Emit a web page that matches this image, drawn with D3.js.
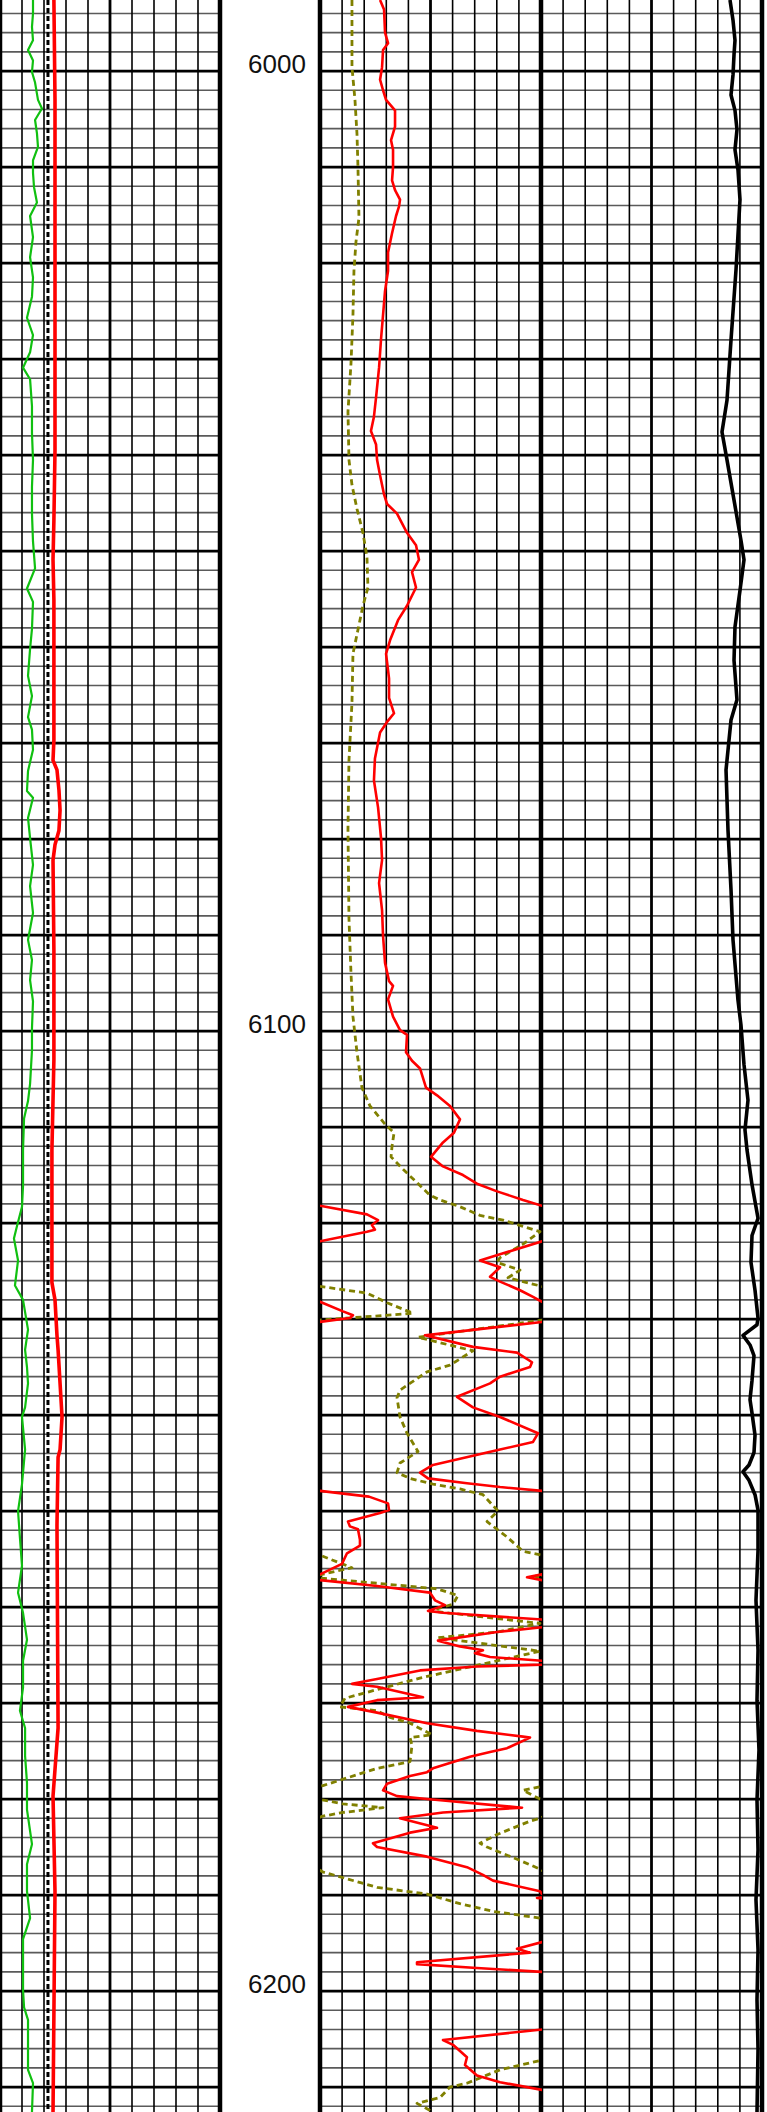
<!DOCTYPE html>
<html><head><meta charset="utf-8">
<script src="https://cdn.jsdelivr.net/npm/d3@7/dist/d3.min.js"></script>
<style>html,body{margin:0;padding:0;background:#fff}svg{display:block}</style>
</head><body><div id="chart"></div>
<script>
// ---------- DATA ----------
const depthLabels = [6000, 6100, 6200];

// Track 1: GR (green), caliper (red), bit size (dotted)
const grDepth = [5992.6,5994.0,5995.4,5996.8,5997.8,5998.9,6000.1,6001.2,6003.0,6003.9,6005.1,6006.5,6007.9,6009.3,6010.6,6012.1,6013.7,6015.1,6017.3,6019.4,6021.5,6023.5,6025.7,6027.5,6029.3,6030.9,6032.1,6034.9,6037.7,6040.5,6043.3,6046.1,6049.0,6051.8,6053.9,6055.3,6058.1,6060.2,6063.0,6065.1,6067.3,6068.6,6070.7,6072.9,6075.0,6075.7,6077.8,6079.9,6082.7,6084.9,6087.7,6090.5,6092.6,6094.7,6096.9,6099.7,6102.0,6105.5,6107.3,6109.1,6112.4,6116.1,6118.3,6120.3,6121.6,6123.9,6126.5,6128.0,6131.1,6133.2,6135.0,6136.7,6139.2,6140.2,6143.6,6147.2,6150.0,6152.8,6155.7,6158.5,6160.6,6163.4,6165.6,6168.4,6170.8,6172.6,6175.5,6178.3,6181.1,6184.7,6186.8,6189.6,6192.4,6194.6,6197.4,6199.9,6201.7,6203.0,6206.1,6208.2,6209.6,6212.6];
const grValue = [22.5,22.5,21.8,22.5,19.1,22.5,21.8,23.9,25.9,28.6,23.9,25.2,25.9,22.5,22.5,23.2,25.2,20.5,22.5,20.5,22.5,21.8,18.4,22.5,20.5,15.7,20.5,21.8,21.8,22.5,21.8,21.8,22.5,23.9,18.4,22.5,21.8,20.5,19.1,21.8,19.1,21.8,22.5,19.1,18.4,22.5,19.1,20.5,22.5,20.5,22.5,19.1,21.8,20.5,22.5,21.8,21.8,20.5,19.1,16.4,15.7,15.7,15.0,11.6,9.5,12.3,10.2,15.7,19.1,17.1,18.4,19.1,17.1,15.0,17.1,15.0,12.3,13.6,15.0,12.3,15.7,18.4,15.7,15.7,13.6,17.1,17.1,18.4,18.4,21.8,18.4,18.4,20.5,15.7,15.7,15.7,16.4,19.1,19.1,19.1,22.5,21.8];

const calDepth = [5992.6,6003.0,6023.9,6039.5,6046.8,6050.9,6055.1,6069.7,6071.8,6072.8,6074.9,6077.0,6079.1,6080.6,6082.2,6091.6,6103.0,6112.4,6126.2,6128.0,6131.7,6133.2,6140.2,6143.6,6144.4,6151.5,6172.6,6176.9,6179.7,6189.6,6212.6];
const calValue = [8.45,8.50,8.50,8.50,8.45,8.41,8.45,8.45,8.41,8.59,8.68,8.73,8.68,8.50,8.41,8.45,8.45,8.36,8.36,8.50,8.59,8.64,8.82,8.73,8.64,8.59,8.64,8.50,8.41,8.50,8.41];

const bsDepth = [5992.6, 6212.6];
const bsValue = [8.18, 8.18];

// Track 2: deep resistivity (red), medium resistivity (olive), sonic (black)
const resDDepth = [5992.6,5993.6,5996.0,5997.1,5997.8,5999.6,6000.9,6002.0,6003.0,6004.1,6005.8,6007.2,6008.2,6010.0,6011.4,6012.4,6013.4,6014.1,6015.1,6016.9,6018.9,6020.8,6022.9,6025.4,6027.9,6030.9,6034.0,6036.0,6037.5,6038.9,6040.5,6042.1,6044.1,6045.1,6046.1,6046.9,6048.1,6049.4,6050.9,6052.2,6053.8,6055.7,6057.2,6059.3,6060.7,6063.3,6065.3,6066.9,6067.8,6068.9,6071.6,6073.9,6076.7,6079.9,6082.2,6084.6,6087.4,6090.1,6092.9,6094.8,6095.3,6096.7,6098.5,6099.9,6100.4,6102.2,6103.1,6103.9,6105.9,6106.7,6107.8,6109.2,6110.6,6111.6,6113.1,6114.1,6115.0,6115.9,6116.7,6117.6,6118.2,6119.1,6119.7,6120.2,6120.7,6120.9,6121.9,6123.9,6124.6,6125.6,6126.1,6127.0,6127.7,6128.2,6129.2,6129.6,6129.9,6130.3,6131.7,6132.9,6133.5,6134.5,6135.0,6136.0,6136.7,6138.1,6139.2,6140.2,6141.9,6142.8,6143.6,6145.2,6146.0,6146.6,6147.1,6147.5,6147.9,6148.5,6149.2,6149.9,6150.2,6151.1,6151.6,6151.9,6153.0,6153.6,6154.4,6155.5,6156.1,6156.6,6156.9,6157.2,6157.8,6158.5,6159.3,6159.8,6160.4,6160.6,6161.3,6161.7,6162.1,6162.6,6163.5,6164.1,6164.5,6164.8,6165.2,6165.6,6165.8,6166.0,6166.2,6166.6,6167.5,6168.0,6168.3,6169.4,6169.7,6170.4,6171.0,6172.1,6172.9,6173.5,6173.6,6174.7,6175.1,6175.6,6176.8,6177.2,6177.6,6178.4,6179.1,6179.7,6180.0,6180.9,6181.4,6182.0,6183.0,6183.5,6184.6,6185.0,6186.0,6187.1,6187.9,6188.5,6189.6,6189.9,6190.1,6190.3,6190.5,6191.5,6193.5,6194.9,6195.6,6196.0,6197.0,6197.2,6197.6,6198.0,6200.0,6202.0,6204.0,6205.1,6205.6,6206.9,6207.7,6208.8,6209.5,6210.3,6211.5,6213.0];
const resDValue = [5.41,5.77,5.86,6.13,5.68,5.59,5.41,5.68,5.95,6.76,6.76,6.40,6.58,6.58,6.49,6.76,7.21,7.12,6.85,6.49,6.13,6.13,5.86,5.68,5.50,5.32,5.05,4.86,4.59,5.05,5.14,5.41,5.77,6.04,6.94,7.30,7.84,8.65,8.92,8.29,8.65,7.84,7.03,6.31,5.95,6.22,6.22,6.67,6.04,5.41,4.95,4.86,5.23,5.50,5.59,5.32,5.59,5.68,5.86,6.22,6.58,6.13,6.58,7.21,7.84,7.75,8.29,9.01,9.55,10.54,11.71,12.61,12.07,11.08,10.00,11.08,12.88,14.14,15.95,18.29,20.0,24.23,25.23,24.68,24.95,24.23,20.0,14.41,16.22,15.32,16.22,18.02,19.19,20.0,22.07,22.97,22.70,20.0,9.46,13.78,17.75,19.10,18.92,16.22,15.32,12.34,13.78,16.22,19.64,19.19,16.22,10.18,9.01,9.73,13.24,16.22,20.0,24.41,26.13,26.22,25.41,22.52,22.70,23.42,23.60,23.60,22.43,21.98,20.90,20.0,18.65,20.0,25.14,29.91,30.36,31.26,29.73,31.08,40.0,42.0,40.0,35.95,30.63,32.61,34.68,33.96,35.32,40.0,42.0,40.0,34.14,29.01,25.14,22.88,25.14,29.28,25.14,22.52,25.14,29.64,34.14,38.29,38.92,36.85,35.32,33.51,30.18,29.64,28.11,26.04,25.68,26.94,29.64,38.2,31.08,27.21,30.54,28.11,24.77,25.14,29.64,33.24,34.68,35.59,39.82,40.0,41.0,39.55,41.0,45.0,46.0,40.0,37.75,38.92,28.74,28.74,34.14,40.0,46.0,44.0,40.0,31.08,31.98,33.24,33.06,34.14,36.22,40.0,45.0,47.0];

const resMDepth = [5992.6,5999.6,6003.0,6006.5,6010.0,6015.3,6017.8,6020.8,6025.4,6030.5,6035.5,6040.5,6043.1,6045.6,6048.1,6050.6,6053.8,6055.7,6058.2,6060.7,6065.8,6071.8,6079.0,6088.3,6093.9,6098.5,6102.2,6105.9,6107.8,6109.7,6110.6,6112.0,6113.1,6114.4,6115.5,6117.1,6117.6,6118.3,6119.2,6119.7,6120.9,6122.2,6123.6,6124.1,6124.9,6125.7,6126.6,6127.3,6128.3,6129.4,6130.1,6131.9,6132.2,6132.9,6133.3,6134.8,6135.5,6137.4,6138.2,6140.2,6141.9,6143.8,6145.0,6146.0,6146.6,6147.2,6147.7,6148.3,6150.0,6151.1,6152.7,6154.2,6154.6,6155.9,6156.6,6156.8,6157.0,6158.1,6158.8,6159.7,6160.4,6161.7,6162.6,6163.2,6164.6,6167.4,6169.5,6170.4,6170.8,6171.5,6172.1,6173.3,6173.6,6174.4,6176.1,6176.8,6178.6,6179.1,6180.0,6180.5,6180.9,6181.4,6181.8,6182.0,6182.3,6183.7,6184.6,6185.0,6186.4,6187.3,6187.6,6189.2,6189.9,6190.9,6191.7,6192.4,6195.0,6200.0,6204.0,6207.2,6208.2,6209.6,6210.0,6211.1,6211.7,6212.6];
const resMValue = [2.88,2.88,3.15,3.33,3.42,3.51,3.24,3.06,2.97,2.79,2.52,2.61,2.88,3.33,3.87,4.23,4.32,3.87,3.42,2.97,2.88,2.61,2.52,2.61,2.79,2.97,3.33,3.78,4.50,5.86,6.67,6.49,6.40,7.48,8.47,9.91,10.81,12.61,14.41,16.49,19.82,18.29,16.22,15.95,18.02,16.94,20.0,24.23,26.04,28.38,20.1,8.83,9.91,12.34,13.78,11.71,9.64,7.21,6.94,7.21,7.84,8.83,7.21,6.94,8.11,10.18,12.61,14.68,16.04,15.05,16.85,18.29,20.0,22.88,20.18,19.37,20.18,30.54,32.43,31.98,29.91,39.82,35.95,30.63,39.82,29.0,22.25,21.80,25.14,26.31,28.11,30.09,28.11,28.29,28.11,25.14,20.27,18.29,19.82,22.07,25.68,22.07,20.18,19.82,18.92,15.95,14.41,15.05,18.02,19.82,20.27,25.14,29.64,32.61,35.59,39.82,45.0,47.0,44.0,40.0,36.22,33.24,31.71,30.81,28.74,30.18];

const dtDepth = [5992.6,5994.7,5996.8,5998.3,6000.4,6002.5,6004.1,6006.1,6008.2,6010.3,6013.4,6020.7,6028.0,6034.3,6037.6,6040.5,6044.7,6048.9,6050.9,6054.1,6057.9,6061.4,6065.5,6067.6,6072.8,6079.1,6085.3,6090.5,6096.8,6099.4,6103.5,6107.2,6110.3,6112.4,6116.0,6119.5,6121.3,6124.1,6127.0,6129.9,6130.6,6131.7,6132.7,6133.8,6136.4,6138.4,6139.8,6142.1,6143.9,6145.2,6145.9,6146.8,6148.3,6149.9,6154.1,6159.3,6164.5,6169.7,6174.9,6180.1,6185.3,6190.5,6195.7,6200.9,6206.1,6212.6];
const dtValue = [47.24,46.56,46.11,46.33,46.56,47.01,46.11,45.66,46.11,45.43,44.98,45.88,47.01,47.92,49.05,47.92,46.33,44.75,44.07,44.98,46.11,46.33,45.66,47.01,48.14,47.69,47.01,46.56,45.43,44.75,44.07,43.17,43.85,43.39,42.26,40.90,42.26,42.49,41.58,40.90,41.13,44.30,42.71,41.81,42.26,42.71,42.26,41.58,41.81,42.94,44.30,42.94,41.58,40.90,40.90,41.36,40.90,41.13,40.68,41.13,40.90,41.36,40.90,41.13,40.90,41.13];

// ---------- LAYOUT ----------
const W = 767, H = 2112;
const svg = d3.select("#chart").append("svg").attr("width", W).attr("height", H);

const y = d3.scaleLinear().domain([5992.6, 6212.6]).range([0, H]);
const t1 = [0, 220], t2 = [320, 762], t2half = [320, 542];
const xGR = d3.scaleLinear().domain([0, 150]).range(t1);
const xCAL = d3.scaleLinear().domain([6, 16]).range(t1);
const xRES = d3.scaleLinear().domain([0, 20]).range(t2half);
const resWrap = 20;
const xDT = d3.scaleLinear().domain([140, 40]).range(t2);

const defs = svg.append("defs");
defs.append("clipPath").attr("id", "clip1").append("rect").attr("x", t1[0]).attr("y", 0).attr("width", t1[1]-t1[0]).attr("height", H);
defs.append("clipPath").attr("id", "clip2").append("rect").attr("x", t2half[0]).attr("y", 0).attr("width", t2half[1]-t2half[0]).attr("height", H);
defs.append("clipPath").attr("id", "clip3").append("rect").attr("x", t2[0]).attr("y", 0).attr("width", t2[1]-t2[0]).attr("height", H);

// ---------- GRID ----------
const grid = svg.append("g");
const gridDepths = d3.range(5994, 6213, 2);
[t1, t2].forEach(t => {
  grid.selectAll(null).data(gridDepths).enter().append("line")
    .attr("x1", t[0]).attr("x2", t[1])
    .attr("y1", d => y(d)).attr("y2", d => y(d))
    .attr("stroke", d => d % 10 === 0 ? "#000" : "#5a5a5a")
    .attr("stroke-width", d => d % 10 === 0 ? 2.8 : 1.6);
});
function vlines(t, n) {
  const xs = d3.range(n + 1).map(i => t[0] + (t[1] - t[0]) * i / n);
  grid.selectAll(null).data(xs.map((x, i) => ({x, i}))).enter().append("line")
    .attr("x1", d => d.x).attr("x2", d => d.x).attr("y1", 0).attr("y2", H)
    .attr("stroke", "#000")
    .attr("stroke-width", d => (d.i === 0 || d.i === n) ? 4.5 : (d.i % 10 === 0 ? 4.5 : (d.i % 5 === 0 ? 2.8 : 1.6)));
}
vlines(t1, 10);
vlines(t2, 20);

// depth labels
svg.selectAll(null).data(depthLabels).enter().append("text")
  .attr("x", 277).attr("y", d => y(d) + 1.5)
  .attr("text-anchor", "middle")
  .attr("font-family", "Liberation Sans, Arial, sans-serif")
  .attr("font-size", 26)
  .attr("fill", "#111")
  .text(d => d);

// ---------- CURVES ----------
function series(depths, values) { return depths.map((d, i) => ({d, v: values[i]})); }
function drawCurve(data, xf, clip, stroke, width, dash) {
  const line = d3.line().x(p => xf(p.v)).y(p => y(p.d));
  svg.append("path").datum(data)
    .attr("clip-path", `url(#${clip})`)
    .attr("d", line)
    .attr("fill", "none")
    .attr("stroke", stroke)
    .attr("stroke-width", width)
    .attr("stroke-linejoin", "round")
    .attr("stroke-dasharray", dash || null);
}

// Track 1
drawCurve(series(grDepth, grValue), xGR, "clip1", "#10c010", 2.2);
drawCurve(series(bsDepth, bsValue), xCAL, "clip1", "#000", 3, "5,3");
drawCurve(series(calDepth, calValue), xCAL, "clip1", "#ff0000", 3.6);

// Track 2 (with backup wrap)
const resM = series(resMDepth, resMValue);
drawCurve(resM, xRES, "clip2", "#808000", 2.8, "6,4");
drawCurve(resM, v => xRES(v - resWrap), "clip2", "#808000", 2.8, "6,4");
const resD = series(resDDepth, resDValue);
drawCurve(resD, xRES, "clip2", "#ff0000", 2.6);
drawCurve(resD, v => xRES(v - resWrap), "clip2", "#ff0000", 2.6);

drawCurve(series(dtDepth, dtValue), xDT, "clip3", "#000", 3.6);
</script>
</body></html>
